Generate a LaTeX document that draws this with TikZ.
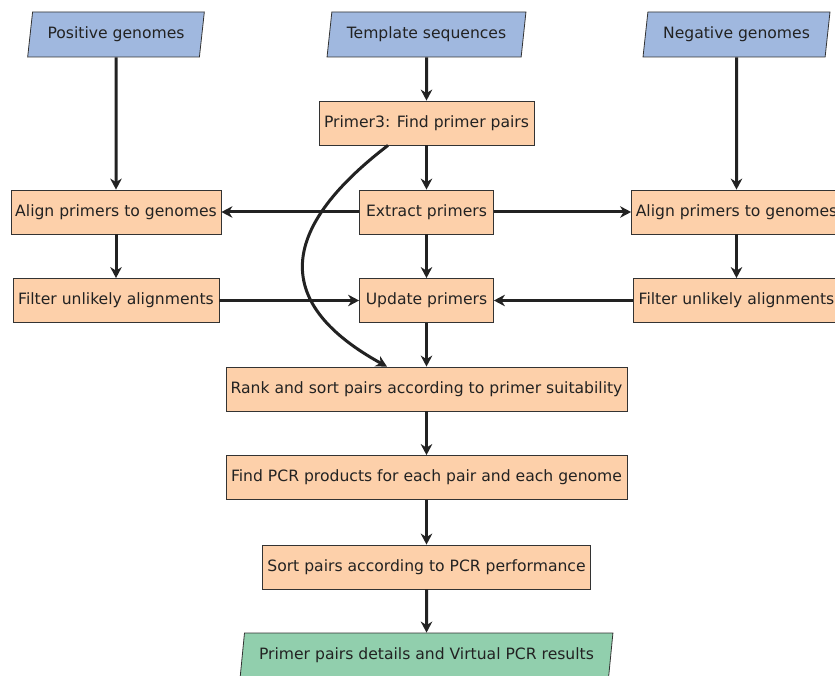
\documentclass[tikz,border=0pt]{standalone}
\usepackage{fontspec}
\setmainfont{DejaVu Sans}
\usetikzlibrary{shapes.geometric,arrows.meta}
\definecolor{inblue}{HTML}{A0B8DF}
\definecolor{procor}{HTML}{FDD0AA}
\definecolor{outgr}{HTML}{91CFAD}
\definecolor{edgec}{HTML}{333333}
\definecolor{arrc}{HTML}{222222}
\tikzset{
  proc/.style={rectangle, draw=edgec, line width=0.8pt, fill=procor, minimum height=44pt, inner sep=0pt, text=arrc, font=\fontsize{15.6}{18}\selectfont},
  iobox/.style={trapezium, trapezium left angle=75, trapezium right angle=105, trapezium stretches=true, draw=edgec, line width=0.8pt, minimum height=45pt, inner sep=0pt, text=arrc, font=\fontsize{15.6}{18}\selectfont},
  flow/.style={draw=arrc, line width=3pt, -{Stealth[length=11pt,width=11.5pt,inset=3.5pt]}}
}
\begin{document}
\begin{tikzpicture}[x=1pt,y=-1pt]
\useasboundingbox (0,0) rectangle (835,676);
\node[iobox, fill=inblue, minimum width=177pt] (pos) at (116,34.5) {Positive genomes};
\node[iobox, fill=inblue, minimum width=199pt] (tmpl) at (426.5,34.5) {Template sequences};
\node[iobox, fill=inblue, minimum width=187pt] (neg) at (736.5,34.5) {Negative genomes};
\node[proc, minimum width=215pt] (p3) at (426.5,123) {Primer3: Find primer pairs};
\node[proc, minimum width=134pt] (ext) at (426.5,212) {Extract primers};
\node[proc, minimum width=210pt] (alL) at (116,212) {Align primers to genomes};
\node[proc, minimum width=210pt] (alR) at (736.5,212) {Align primers to genomes};
\node[proc, minimum width=206pt] (fiL) at (116,300.5) {Filter unlikely alignments};
\node[proc, minimum width=134pt] (upd) at (426.5,300.5) {Update primers};
\node[proc, minimum width=206pt] (fiR) at (736.5,300.5) {Filter unlikely alignments};
\node[proc, minimum width=401pt] (rank) at (426.5,389) {Rank and sort pairs according to primer suitability};
\node[proc, minimum width=401pt] (find) at (426.5,477.5) {Find PCR products for each pair and each genome};
\node[proc, minimum width=328pt] (sort) at (426.5,567) {Sort pairs according to PCR performance};
\node[iobox, fill=outgr, minimum width=373pt] (out) at (426.5,655.5) {Primer pairs details and Virtual PCR results};
\draw[flow] (pos) -- (alL);
\draw[flow] (alL) -- (fiL);
\draw[flow] (tmpl) -- (p3);
\draw[flow] (p3) -- (ext);
\draw[flow] (ext) -- (upd);
\draw[flow] (upd) -- (rank);
\draw[flow] (rank) -- (find);
\draw[flow] (find) -- (sort);
\draw[flow] (sort) -- (out);
\draw[flow] (neg) -- (alR);
\draw[flow] (alR) -- (fiR);
\draw[flow] (ext) -- (alL);
\draw[flow] (ext) -- (alR);
\draw[flow] (fiL) -- (upd);
\draw[flow] (fiR) -- (upd);
\coordinate (cs) at ([xshift=-38.5pt]p3.south);
\coordinate (ce) at ([xshift=-39.5pt]rank.north);
\draw[flow] (cs) .. controls (275,232) and (275,305) .. (ce);
\end{tikzpicture}
\end{document}
